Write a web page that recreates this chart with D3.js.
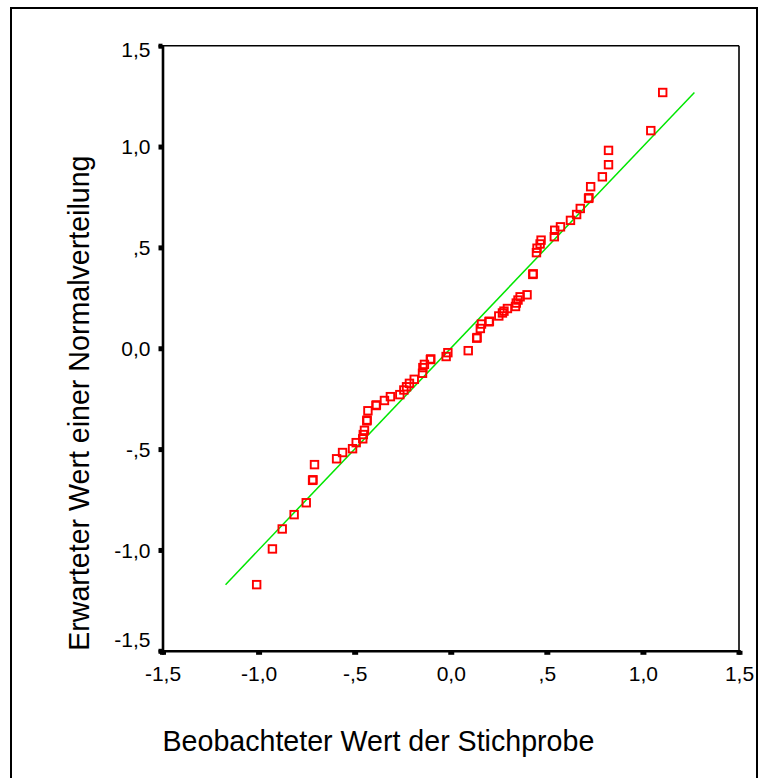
<!DOCTYPE html>
<html>
<head>
<meta charset="utf-8">
<script src="https://cdn.jsdelivr.net/npm/d3@7"></script>
<style>
  body { margin: 0; background: #fff; }
  svg { display: block; font-family: "Liberation Sans", Arial, sans-serif; }
</style>
</head>
<body>
<svg id="chart"></svg>
<script>
const observed = [
  -1.010, -0.928, -0.877, -0.815, -0.752, -0.719, -0.717, -0.709, -0.594, -0.563,
  -0.511, -0.492, -0.458, -0.455, -0.449, -0.437, -0.435, -0.431, -0.389, -0.387,
  -0.345, -0.314, -0.265, -0.244, -0.230, -0.215, -0.190, -0.147, -0.145, -0.137,
  -0.106, -0.104, -0.024, -0.015, 0.091, 0.135, 0.137, 0.154, 0.160, 0.199,
  0.201, 0.250, 0.269, 0.277, 0.295, 0.337, 0.341, 0.350, 0.361, 0.397,
  0.427, 0.429, 0.446, 0.449, 0.465, 0.470, 0.539, 0.541, 0.571, 0.623,
  0.655, 0.674, 0.717, 0.719, 0.728, 0.789, 0.821, 0.821, 1.041, 1.103
];
const expected = [
  -1.172, -0.995, -0.896, -0.825, -0.766, -0.655, -0.652, -0.577, -0.548, -0.517,
  -0.498, -0.468, -0.449, -0.428, -0.407, -0.360, -0.356, -0.310, -0.284, -0.281,
  -0.259, -0.240, -0.230, -0.207, -0.191, -0.174, -0.154, -0.124, -0.096, -0.080,
  -0.056, -0.053, -0.041, -0.022, -0.012, 0.050, 0.053, 0.098, 0.120, 0.131,
  0.134, 0.160, 0.175, 0.184, 0.197, 0.207, 0.224, 0.239, 0.255, 0.265,
  0.366, 0.369, 0.474, 0.496, 0.517, 0.536, 0.553, 0.585, 0.602, 0.634,
  0.663, 0.693, 0.743, 0.746, 0.801, 0.850, 0.910, 0.981, 1.079, 1.268
];

const tickValues = [-1.5, -1.0, -0.5, 0.0, 0.5, 1.0, 1.5];
const tickLabels = ["-1,5", "-1,0", "-,5", "0,0", ",5", "1,0", "1,5"];

const xTitle = "Beobachteter Wert der Stichprobe";
const yTitle = "Erwarteter Wert einer Normalverteilung";

const width = 760, height = 778;

const svg = d3.select("#chart").attr("width", width).attr("height", height);

const x = d3.scaleLinear().domain([-1.5, 1.5]).range([162.5, 739]);
const y = d3.scaleLinear().domain([-1.5, 1.5]).range([650.8, 45.7]);

const label = (d) => tickLabels[tickValues.indexOf(d)];

// outer frame
svg.append("rect")
  .attr("x", 11).attr("y", 8)
  .attr("width", 746).attr("height", 800)
  .attr("fill", "none").attr("stroke", "#000").attr("stroke-width", 2);

// top and right border of the plot area
svg.append("line")
  .attr("x1", x(-1.5)).attr("x2", x(1.5))
  .attr("y1", y(1.5)).attr("y2", y(1.5))
  .attr("stroke", "#000").attr("stroke-width", 1.6);
svg.append("line")
  .attr("x1", x(1.5)).attr("x2", x(1.5))
  .attr("y1", y(1.5)).attr("y2", y(-1.5))
  .attr("stroke", "#000").attr("stroke-width", 1.6);

// y axis
const yAxis = svg.append("g")
  .attr("transform", `translate(${x(-1.5)},0)`)
  .call(d3.axisLeft(y).tickValues(tickValues).tickFormat(label).tickSize(4).tickPadding(8));
yAxis.select(".domain").attr("stroke-width", 2.6);
yAxis.selectAll(".tick line").attr("stroke-width", 5);
yAxis.selectAll(".tick text")
  .attr("font-size", 21).attr("fill", "#000")
  .attr("dy", (d) => (d === 1.5 ? "0.5em" : d === -1.5 ? "-0.2em" : "0.35em"));

// x axis
const xAxis = svg.append("g")
  .attr("transform", `translate(0,${y(-1.5)})`)
  .call(d3.axisBottom(x).tickValues(tickValues).tickFormat(label).tickSize(4).tickPadding(11));
xAxis.select(".domain").attr("stroke-width", 2.6);
xAxis.selectAll(".tick line").attr("stroke-width", 6);
xAxis.selectAll(".tick text").attr("font-size", 21).attr("fill", "#000");

// axis titles
svg.append("text")
  .attr("x", x(-1.5)).attr("y", 751)
  .attr("font-size", 28.6).attr("fill", "#000")
  .text(xTitle);

svg.append("text")
  .attr("transform", `translate(89,${y(-1.5)}) rotate(-90)`)
  .attr("font-size", 28.6).attr("fill", "#000")
  .text(yTitle);

// reference line y = x over the range of expected values
const lo = d3.min(expected), hi = d3.max(expected);
svg.append("line")
  .attr("x1", x(lo)).attr("y1", y(lo))
  .attr("x2", x(hi)).attr("y2", y(hi))
  .attr("stroke", "#00e600").attr("stroke-width", 1.5);

// points
const points = observed.map((v, i) => ({ obs: v, exp: expected[i] }));
const box = 7.5;
svg.append("g")
  .selectAll("rect")
  .data(points)
  .enter()
  .append("rect")
  .attr("x", (d) => x(d.obs) - box / 2)
  .attr("y", (d) => y(d.exp) - box / 2)
  .attr("width", box)
  .attr("height", box)
  .attr("fill", "none")
  .attr("stroke", "#ff0000")
  .attr("stroke-width", 1.9);
</script>
</body>
</html>
